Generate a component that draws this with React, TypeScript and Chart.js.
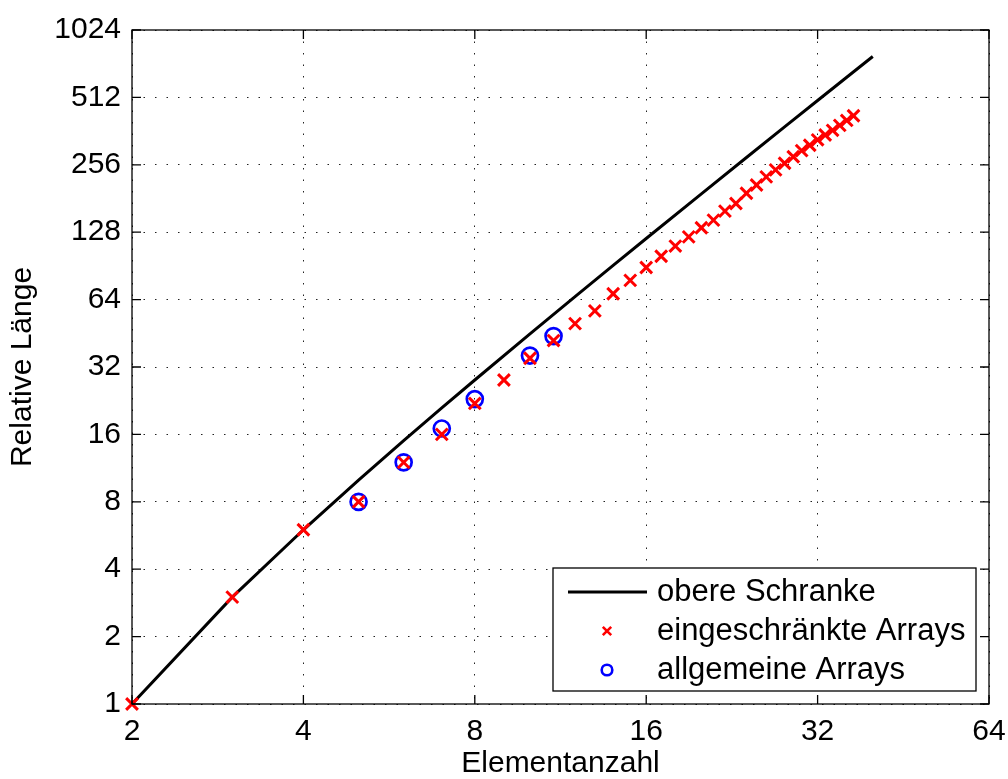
import React, { useEffect, useRef } from "react";
import { Chart, registerables } from "chart.js";

Chart.register(...registerables);

// ---- data ----
const X_TICKS = [2, 4, 8, 16, 32, 64];
const Y_TICKS = [1, 2, 4, 8, 16, 32, 64, 128, 256, 512, 1024];

const BOUND_N = [2, 3, 4, 5, 6, 7, 8, 10, 12, 14, 16, 20, 24, 28, 32, 36, 40];
const BOUND_LEN = [1, 3, 6, 10, 15, 21, 28, 45, 66, 91, 120, 190, 276, 378, 496, 630, 780];

const RESTRICTED_N = [
  2, 3, 4, 5, 6, 7, 8, 9, 10, 11, 12, 13, 14, 15, 16, 17, 18, 19, 20, 21, 22, 23, 24, 25, 26, 27,
  28, 29, 30, 31, 32, 33, 34, 35, 36, 37,
];
const RESTRICTED_LEN = [
  1, 3, 6, 8, 12, 16, 22, 28, 35, 42, 50, 57, 68, 78, 89, 100, 111, 122, 134, 145, 159, 172, 191,
  208, 226, 243, 260, 278, 296, 313, 331, 348, 365, 384, 404, 424,
];

const GENERAL_N = [5, 6, 7, 8, 10, 11];
const GENERAL_LEN = [8, 12, 17, 23, 36, 44];

const LEGEND_LABELS = ["obere Schranke", "eingeschränkte Arrays", "allgemeine Arrays"];
const X_TITLE = "Elementanzahl";
const Y_TITLE = "Relative Länge";

const FONT = "'Liberation Sans', Arial, Helvetica, sans-serif";
const RED = "#ff0000";
const BLUE = "#0000ff";

const toXY = (xs: number[], ys: number[]) => xs.map((x, i) => ({ x, y: ys[i] }));

const framePlugin = {
  id: "matlabFrame",
  afterDraw(chart: any) {
    const { ctx, chartArea: a, scales } = chart;
    ctx.save();
    // frame
    ctx.strokeStyle = "#000";
    ctx.lineWidth = 1.3;
    ctx.strokeRect(a.left, a.top, a.right - a.left, a.bottom - a.top);
    // inward ticks on all sides
    const tl = 9;
    ctx.beginPath();
    X_TICKS.forEach((v) => {
      const x = scales.x.getPixelForValue(v);
      ctx.moveTo(x, a.bottom);
      ctx.lineTo(x, a.bottom - tl);
      ctx.moveTo(x, a.top);
      ctx.lineTo(x, a.top + tl);
    });
    Y_TICKS.forEach((v) => {
      const y = scales.y.getPixelForValue(v);
      ctx.moveTo(a.left, y);
      ctx.lineTo(a.left + tl, y);
      ctx.moveTo(a.right, y);
      ctx.lineTo(a.right - tl, y);
    });
    ctx.stroke();

    // legend box
    const w = 423;
    const h = 123;
    const x0 = a.right - 13 - w;
    const y0 = a.bottom - 13 - h;
    ctx.fillStyle = "#fff";
    ctx.fillRect(x0, y0, w, h);
    ctx.lineWidth = 1.3;
    ctx.strokeStyle = "#000";
    ctx.strokeRect(x0, y0, w, h);

    const rows = [24, 63, 102];
    const mx = x0 + 54;
    // line sample
    ctx.beginPath();
    ctx.lineWidth = 3;
    ctx.strokeStyle = "#000";
    ctx.moveTo(x0 + 15, y0 + rows[0]);
    ctx.lineTo(x0 + 94, y0 + rows[0]);
    ctx.stroke();
    // red cross
    const r = 4.2;
    ctx.beginPath();
    ctx.lineWidth = 2.6;
    ctx.strokeStyle = RED;
    ctx.moveTo(mx - r, y0 + rows[1] - r);
    ctx.lineTo(mx + r, y0 + rows[1] + r);
    ctx.moveTo(mx - r, y0 + rows[1] + r);
    ctx.lineTo(mx + r, y0 + rows[1] - r);
    ctx.stroke();
    // blue circle
    ctx.beginPath();
    ctx.lineWidth = 2.6;
    ctx.strokeStyle = BLUE;
    ctx.arc(mx, y0 + rows[2], 5.3, 0, Math.PI * 2);
    ctx.stroke();

    ctx.fillStyle = "#000";
    ctx.font = `31px ${FONT}`;
    ctx.textBaseline = "middle";
    ctx.textAlign = "left";
    LEGEND_LABELS.forEach((t, i) => ctx.fillText(t, x0 + 104, y0 + rows[i]));
    ctx.restore();
  },
};

export default function App() {
  const ref = useRef<HTMLCanvasElement | null>(null);

  useEffect(() => {
    if (!ref.current) return;
    const gridCommon = {
      color: "#222",
      lineWidth: 1,
      drawTicks: false,
    };
    const chart = new Chart(ref.current, {
      type: "scatter",
      data: {
        datasets: [
          {
            label: LEGEND_LABELS[1],
            data: toXY(RESTRICTED_N, RESTRICTED_LEN),
            showLine: false,
            pointStyle: "crossRot",
            pointRadius: 8.3,
            borderColor: RED,
            backgroundColor: RED,
            pointBorderWidth: 3,
            borderWidth: 3,
            clip: false,
          } as any,
          {
            label: LEGEND_LABELS[2],
            data: toXY(GENERAL_N, GENERAL_LEN),
            showLine: false,
            pointStyle: "circle",
            pointRadius: 8,
            borderColor: BLUE,
            backgroundColor: "rgba(0,0,0,0)",
            pointBorderWidth: 2.7,
            borderWidth: 2.7,
            clip: false,
          } as any,
          {
            label: LEGEND_LABELS[0],
            data: toXY(BOUND_N, BOUND_LEN),
            showLine: true,
            pointRadius: 0,
            borderColor: "#000",
            borderWidth: 3,
            tension: 0,
            clip: false,
          } as any,
        ],
      },
      options: {
        animation: false,
        responsive: false,
        devicePixelRatio: 1,
        events: [],
        layout: { padding: { left: 0, right: 19, top: 30, bottom: 0 } },
        plugins: { legend: { display: false }, tooltip: { enabled: false } },
        scales: {
          x: {
            type: "logarithmic",
            min: 2,
            max: 64,
            afterBuildTicks: (s: any) => {
              s.ticks = X_TICKS.map((v) => ({ value: v }));
            },
            afterFit: (s: any) => {
              s.height = 75;
              s.paddingLeft = 0;
              s.paddingRight = 0;
            },
            ticks: {
              autoSkip: false,
              maxRotation: 0,
              padding: 10,
              color: "#000",
              font: { family: FONT, size: 30 },
              callback: (v: any) => String(v),
            },
            grid: gridCommon,
            border: { display: false, dash: [1.5, 10] },
            title: {
              display: true,
              text: X_TITLE,
              color: "#000",
              font: { family: FONT, size: 30, lineHeight: 1 },
              padding: { top: 0, bottom: 0 },
            },
          } as any,
          y: {
            type: "logarithmic",
            min: 1,
            max: 1024,
            afterBuildTicks: (s: any) => {
              s.ticks = Y_TICKS.map((v) => ({ value: v }));
            },
            afterFit: (s: any) => {
              s.width = 132;
              s.paddingTop = 0;
              s.paddingBottom = 0;
            },
            ticks: {
              autoSkip: false,
              padding: 11,
              color: "#000",
              font: { family: FONT, size: 30 },
              callback: (v: any) => String(v),
            },
            grid: gridCommon,
            border: { display: false, dash: [1.5, 10] },
            title: {
              display: true,
              text: Y_TITLE,
              color: "#000",
              font: { family: FONT, size: 30, lineHeight: 1 },
              padding: { top: 7.5, bottom: 0 },
            },
          } as any,
        },
      },
      plugins: [framePlugin],
    });
    return () => chart.destroy();
  }, []);

  return (
    <div style={{ position: "absolute", left: 0, top: 0, width: 1008, height: 779, background: "#fff" }}>
      <canvas ref={ref} width={1008} height={779} style={{ display: "block" }} />
    </div>
  );
}
